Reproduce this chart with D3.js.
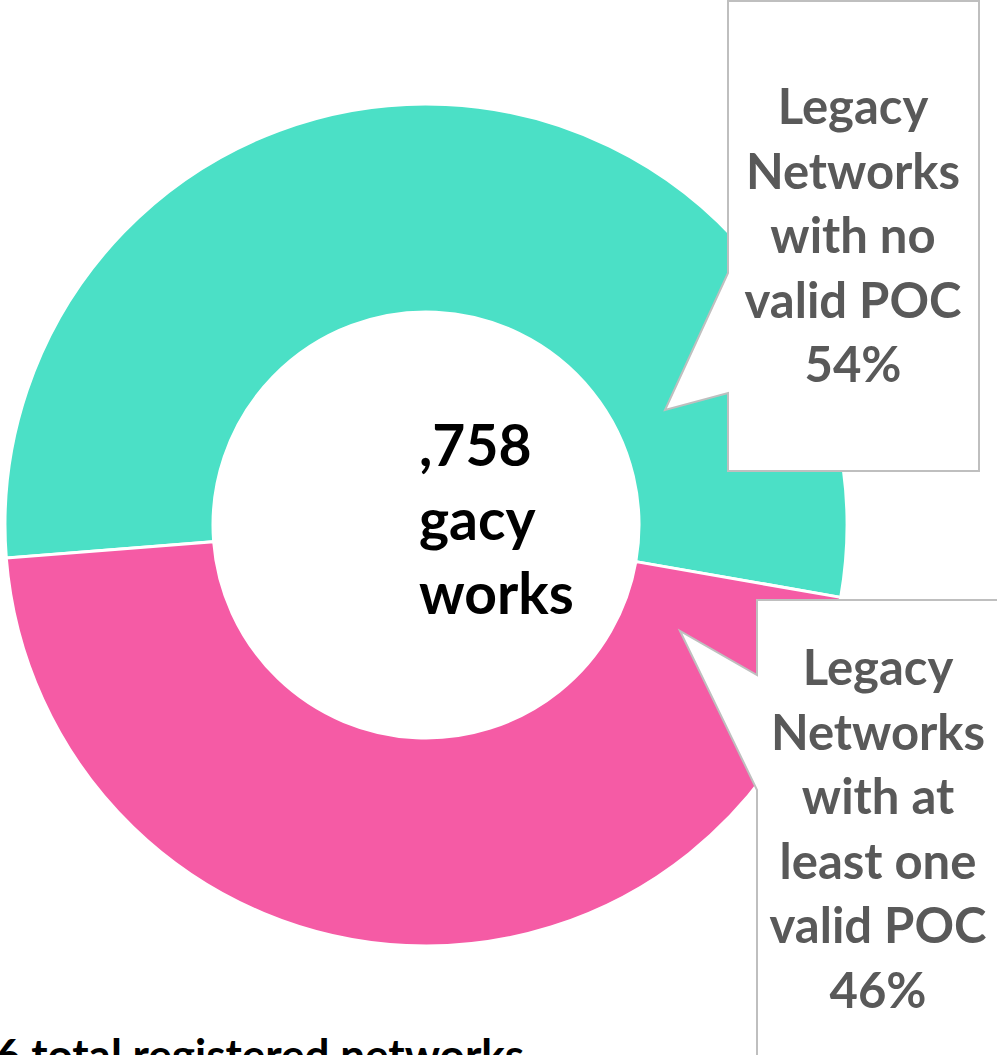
<!DOCTYPE html>
<html>
<head>
<meta charset="utf-8">
<script src="https://cdn.jsdelivr.net/npm/d3@7"></script>
<style>
  html, body { margin: 0; padding: 0; background: #fff; overflow: hidden; }
  svg { display: block; }
</style>
</head>
<body>
<div id="chart"></div>
<script>
// slice data
var categories = ["Legacy Networks with no valid POC", "Legacy Networks with at least one valid POC"];
var shares = [54, 46];
var sliceColors = ["#4BE0C6", "#F55BA5"];

// callout label lines
var labelLines = [
  ["Legacy", "Networks", "with no", "valid POC", "54%"],
  ["Legacy", "Networks", "with at", "least one", "valid POC", "46%"]
];
// centre text (left part is cut off in the original)
var centerLines = [",758", "gacy", "works"];
var footText = "6 total registered networks";

var W = 997, H = 1055;
var cx = 426, cy = 525;
var outerR = 421, innerR = 213;

var svg = d3.select("#chart").append("svg")
  .attr("width", W)
  .attr("height", H);

var pie = d3.pie()
  .sort(null)
  .startAngle(-94.5 * Math.PI / 180)
  .endAngle(265.5 * Math.PI / 180);

var arc = d3.arc()
  .innerRadius(innerR)
  .outerRadius(outerR);

var donut = svg.append("g")
  .attr("transform", "translate(" + cx + "," + cy + ")");

donut.selectAll("path.slice")
  .data(pie(shares))
  .enter().append("path")
  .attr("class", "slice")
  .attr("d", arc)
  .attr("fill", function(d, i) { return sliceColors[i]; })
  .attr("stroke", "#fff")
  .attr("stroke-width", 3);

// centre text
svg.selectAll("text.center")
  .data(centerLines)
  .enter().append("text")
  .attr("class", "center")
  .attr("x", 419)
  .attr("y", function(d, i) { return 466 + i * 74; })
  .attr("font-family", "Lato, sans-serif")
  .attr("font-weight", "bold")
  .attr("font-size", 57)
  .attr("fill", "#000")
  .text(function(d) { return d; });

// callout shapes
var callouts = [
  { left: 728, top: 1, right: 979, bottom: 471, p1: 273, tip: [665, 410], p2: 393, cx: 853, y0: 124 },
  { left: 757, top: 600, right: 1010, bottom: 1070, p1: 675, tip: [680, 631], p2: 790, cx: 878, y0: 685 }
];

callouts.forEach(function(c, k) {
  var pts = [[c.left, c.top], [c.right, c.top], [c.right, c.bottom], [c.left, c.bottom],
             [c.left, Math.max(c.p1, c.p2)], c.tip, [c.left, Math.min(c.p1, c.p2)]];
  svg.append("path")
    .attr("d", d3.line()(pts) + "Z")
    .attr("fill", "#fff")
    .attr("stroke", "#BFBFBF")
    .attr("stroke-width", 2);

  svg.append("g").selectAll("text")
    .data(labelLines[k])
    .enter().append("text")
    .attr("x", c.cx)
    .attr("y", function(d, i) { return c.y0 + i * 64.6; })
    .attr("text-anchor", "middle")
    .attr("font-family", "Lato, sans-serif")
    .attr("font-weight", "bold")
    .attr("font-size", 49)
    .attr("fill", "#595959")
    .text(function(d) { return d; });
});

// footer text, cut by the bottom edge as in the original
svg.append("text")
  .attr("x", -5)
  .attr("y", 1071)
  .attr("font-family", "Lato, sans-serif")
  .attr("font-weight", "bold")
  .attr("font-size", 44)
  .attr("fill", "#000")
  .text(footText);
</script>
</body>
</html>
